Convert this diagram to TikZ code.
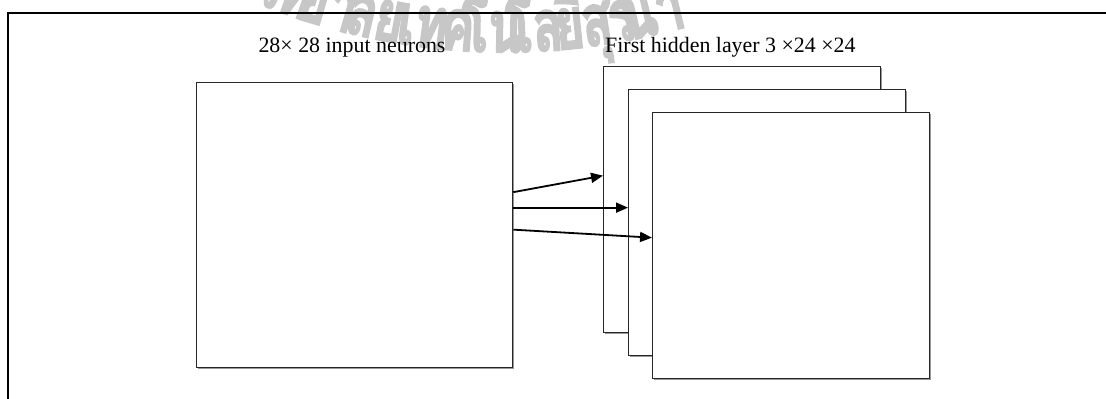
\documentclass[tikz,border=0pt]{standalone}
\usepackage{graphicx}
\usepackage{fontspec}
\setmainfont{Liberation Serif}
\newfontfamily\thaifont[Script=Thai,BoldFeatures={FakeBold=3}]{Loma}
\usetikzlibrary{arrows.meta,shadows}

\tikzset{
  layer/.style={draw=black!85, line width=1.3pt, fill=white, anchor=north west,
    general shadow={fill=black!40, shadow xshift=1.5pt, shadow yshift=-1.5pt}},
  hidden/.style={layer, minimum width=277pt, minimum height=266pt},
  link/.style={line width=1.8pt, -{Triangle[length=12pt,width=10pt]}},
  caption/.style={font=\fontsize{21.9}{26}\selectfont, inner sep=0pt, anchor=base},
  wmark/.style={text=black!22, font={\thaifont\bfseries\fontsize{72}{74}\selectfont},
    anchor=base, inner sep=0pt}
}

\begin{document}
\begin{tikzpicture}[x=1pt,y=1pt]
\useasboundingbox (0,0) rectangle (1106,-399);

% watermark on an arc of radius 650
\begin{scope}[shift={(505,598)}]
\foreach \a/\t in {-21.9/วิ, -19.4/ท, -16.3/ยา, -13.1/ลั, -10.6/ย, -7.5/เท, -4.3/ค,
    -1.2/โน, 2.7/โล, 5.9/ยี, 8.4/สุ, 10.7/ร, 13.6/นา}
  \node[wmark, rotate=\a] at (\a-90:650) {\scalebox{0.7}[1]{\t}};
\end{scope}

% frame
\draw[line width=2.8pt] (8,-400) -- (8,-13) -- (1110,-13);

\node[caption] (inlabel) at (352,-52) {28× 28 input neurons};
\node[caption, anchor=base west] (hidlabel) at (605,-52) {First hidden layer 3 ×24 ×24};

\node[layer, minimum width=316pt, minimum height=285pt] (input) at (196,-82) {};
\node[hidden] (h1) at (603,-66) {};
\node[hidden] (h2) at (628,-89) {};
\node[hidden] (h3) at (652,-112) {};

\draw[link] ([yshift=33pt]input.east) -- ([yshift=24pt]h1.west);
\draw[link] ([yshift=17.5pt]input.east) -- ([yshift=15pt]h2.west);
\draw[link] ([yshift=-4.5pt]input.east) -- ([yshift=8pt]h3.west);
\end{tikzpicture}
\end{document}
